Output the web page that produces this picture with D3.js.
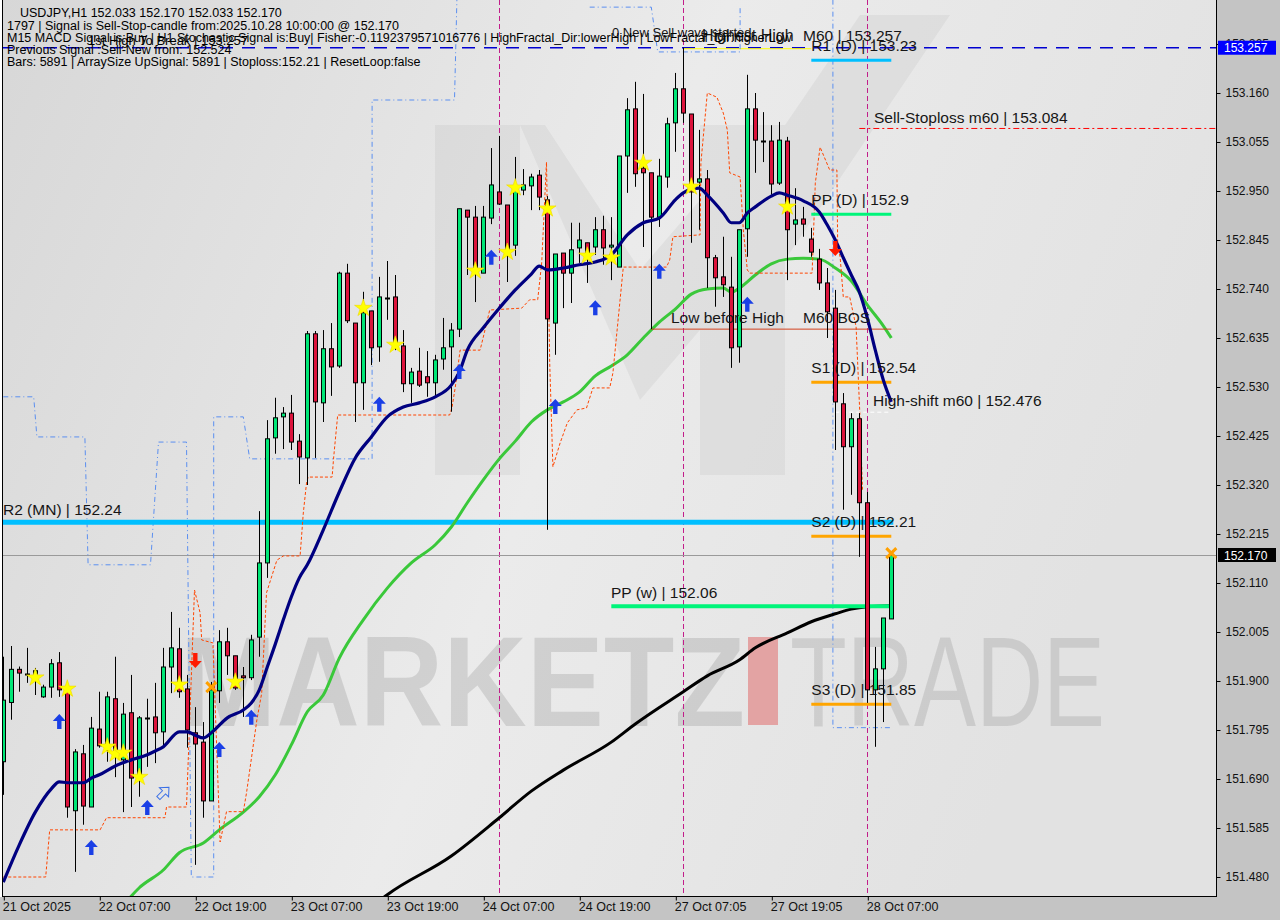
<!DOCTYPE html>
<html><head><meta charset="utf-8">
<script src="https://cdnjs.cloudflare.com/ajax/libs/d3/7.8.5/d3.min.js"></script>
<style>html,body{margin:0;padding:0;background:#c4c4c4;} svg{display:block;font-family:"Liberation Sans",Arial,sans-serif;}</style>
</head><body>
<svg id="chart" width="1280" height="920"></svg>
<script>
// ---------------- DATA ----------------
const opens  = [151.727,151.854,151.925,151.917,151.915,151.866,151.887,151.939,151.881,151.622,151.744,151.630,151.797,151.752,151.862,151.731,151.832,151.694,151.821,151.823,151.791,151.930,151.969,151.883,151.789,151.769,151.643,151.879,151.984,151.954,151.911,151.907,151.994,152.153,152.421,152.466,152.474,152.414,152.378,152.644,152.496,152.612,152.575,152.774,152.667,152.539,152.693,152.616,152.723,152.723,152.618,152.537,152.564,152.552,152.539,152.590,152.616,152.654,152.909,152.894,152.774,152.892,152.948,152.920,152.834,152.952,152.961,152.984,152.931,152.667,152.817,152.774,152.828,152.839,152.830,152.867,152.830,152.787,153.025,153.126,152.999,152.989,152.894,152.980,153.096,153.169,153.115,152.969,152.976,152.807,152.766,152.744,152.616,152.869,153.126,153.059,153.057,152.967,153.057,152.879,152.890,152.847,152.804,152.753,152.699,152.494,152.402,152.462,152.282,151.881,151.926,152.033];
const highs  = [151.952,151.975,151.931,151.971,151.928,151.892,151.947,151.962,151.898,151.754,151.763,151.823,151.877,151.877,151.952,151.853,151.913,151.825,151.862,151.896,151.971,152.048,152.014,151.913,151.844,151.812,151.898,152.009,152.014,151.954,151.930,151.999,152.264,152.459,152.507,152.487,152.513,152.429,152.650,152.650,152.652,152.667,152.777,152.794,152.667,152.734,152.693,152.766,152.800,152.770,152.652,152.571,152.614,152.607,152.599,152.678,152.667,152.912,152.909,152.918,152.918,153.042,153.068,152.920,153.023,152.997,152.987,152.995,152.939,152.815,152.817,152.882,152.882,152.839,152.894,152.897,152.894,153.025,153.149,153.184,153.158,152.989,153.019,153.107,153.203,153.257,153.115,153.081,152.995,152.813,152.852,152.809,152.867,153.199,153.160,153.119,153.091,153.098,153.066,152.956,152.916,152.871,152.826,152.785,152.738,152.517,152.474,152.474,152.305,151.973,152.035,152.170];
const lows   = [151.656,151.817,151.877,151.896,151.870,151.864,151.864,151.866,151.607,151.491,151.592,151.630,151.757,151.727,151.694,151.619,151.630,151.652,151.716,151.724,151.757,151.874,151.864,151.757,151.506,151.607,151.643,151.853,151.913,151.881,151.823,151.902,151.952,152.121,152.387,152.397,152.395,152.322,152.320,152.378,152.455,152.511,152.571,152.667,152.455,152.481,152.577,152.584,152.674,152.609,152.519,152.496,152.530,152.509,152.509,152.567,152.477,152.637,152.770,152.712,152.774,152.879,152.920,152.755,152.811,152.941,152.909,152.909,152.224,152.599,152.699,152.710,152.796,152.753,152.813,152.792,152.759,152.787,152.946,152.959,152.830,152.654,152.873,152.957,153.034,153.096,152.839,152.867,152.742,152.702,152.723,152.571,152.582,152.809,152.989,153.012,152.942,152.963,152.759,152.834,152.852,152.809,152.738,152.635,152.395,152.267,152.299,152.166,151.853,151.759,151.812,152.033];
const closes = [151.859,151.925,151.917,151.915,151.922,151.887,151.937,151.881,151.630,151.748,151.632,151.799,151.761,151.866,151.746,151.829,151.692,151.821,151.821,151.789,151.930,151.971,151.877,151.795,151.765,151.643,151.881,151.984,151.954,151.885,151.907,151.988,152.153,152.419,152.464,152.474,152.412,152.380,152.644,152.498,152.612,152.573,152.774,152.672,152.539,152.689,152.614,152.723,152.721,152.616,152.537,152.562,152.534,152.539,152.588,152.614,152.652,152.912,152.894,152.774,152.894,152.963,152.922,152.819,152.957,152.963,152.980,152.937,152.676,152.815,152.774,152.824,152.845,152.813,152.867,152.828,152.834,153.025,153.124,152.987,152.989,152.894,152.982,153.094,153.169,153.117,152.948,152.976,152.807,152.764,152.749,152.614,152.867,153.126,153.059,153.057,152.965,153.059,152.867,152.888,152.879,152.819,152.753,152.691,152.498,152.402,152.462,152.282,151.881,151.926,152.035,152.170];

const priceTicks = [151.480,151.585,151.690,151.795,151.900,152.005,152.110,152.215,152.320,152.425,152.530,152.635,152.740,152.845,152.950,153.055,153.160,153.265];
const timeIdx    = [0,12,24,36,48,60,72,84,96,108];
const timeLabels = ["21 Oct 2025","22 Oct 07:00","22 Oct 19:00","23 Oct 07:00","23 Oct 19:00","24 Oct 07:00","24 Oct 19:00","27 Oct 07:05","27 Oct 19:05","28 Oct 07:00"];

// moving averages (candle index, price)
const maFastIdx = [0,2,4,6,7,8,10,11,12,14,16,18,19,20,22,23,24,25,26,28,30,31,32,33,34,35,36,37,38,40,42,44,46,48,50,52,54,56,57,58,60,62,64,66,67,68,70,72,74,76,78,80,82,84,85,86,87,88,90,91,92,93,94,96,97,98,100,102,103,104,105,106,107,108,109,110,111];
const maFast    = [151.469,151.549,151.619,151.669,151.684,151.682,151.682,151.692,151.699,151.718,151.731,151.742,151.750,151.759,151.791,151.791,151.784,151.778,151.789,151.821,151.838,151.853,151.881,151.930,151.979,152.031,152.080,152.121,152.149,152.224,152.305,152.378,152.423,152.466,152.487,152.496,152.509,152.534,152.562,152.609,152.657,152.699,152.738,152.772,152.789,152.781,152.785,152.792,152.798,152.813,152.856,152.882,152.892,152.931,152.946,152.954,152.956,152.941,152.903,152.882,152.882,152.903,152.916,152.939,152.946,152.941,152.929,152.905,152.877,152.845,152.807,152.770,152.734,152.678,152.609,152.545,152.498];
const maMidIdx  = [15,17,20,22,25,27,30,32,34,36,38,40,42,45,48,51,54,56,58,60,62,64,66,68,70,72,74,76,78,80,82,84,86,88,90,91,92,94,96,98,100,102,104,106,108,110,111];
const maMid     = [151.420,151.457,151.495,151.532,151.553,151.581,151.619,151.652,151.699,151.763,151.834,151.870,151.949,152.031,152.099,152.153,152.192,152.230,152.282,152.331,152.376,152.414,152.455,152.481,152.498,152.519,152.554,152.575,152.599,152.635,152.669,152.697,152.729,152.740,152.742,152.733,152.742,152.770,152.794,152.804,152.806,152.804,152.785,152.757,152.706,152.661,152.635];
const maSlowIdx = [46,48,56,62,66,70,76,79,85,88,92,94,98,101,104,106,108,111];
const maSlow    = [151.415,151.442,151.525,151.607,151.664,151.709,151.769,151.808,151.877,151.911,151.945,151.971,152.003,152.027,152.044,152.054,152.059,152.061];

// trailing (orange dashed) line
const trailIdx = [0,5.3,5.8,12.1,12.9,20.2,20.4,22.9,23.9,24.6,24.8,26.1,26.2,27.1,27.9,30,30.4,31.7,32.3,32.9,34.2,35,37.1,37.5,37.9,38.1,41.1,41.3,41.8,55.8,56.1,56.5,57.1,59.6,60,60.8,64.8,65.8,66.8,67.3,67.9,68.3,68.7,69.6,70.5,71.7,72.9,73.7,75.8,76.2,77.5,82.9,83.3,83.7,87.1,87.2,88,89.2,90,90.5,90.8,92.1,92.5,93,93.3,101.1,101.5,102.1,103.3,104.2,104.3,104.6,105,105.8,106.6,107.1,107.4];
const trailVal = [151.480,151.480,151.581,151.581,151.607,151.607,151.630,151.630,152.095,152.046,151.988,151.982,151.982,151.555,151.620,151.620,151.660,151.817,151.874,152.089,152.159,152.168,152.168,152.260,152.324,152.337,152.337,152.380,152.470,152.470,152.487,152.530,152.609,152.609,152.637,152.695,152.699,152.717,152.717,152.796,153.012,152.582,152.359,152.410,152.453,152.481,152.485,152.528,152.528,152.560,152.787,152.787,152.802,152.852,152.856,153.010,153.160,153.151,153.117,153.081,152.989,152.980,152.867,152.781,152.774,152.774,152.967,153.044,152.995,152.995,152.830,152.809,152.723,152.723,152.659,152.460,152.310];

// step channel (light blue dashed), NaN = break
const chanIdx = [0,3.8,4.2,10.2,10.6,18.4,19.4,22.9,23.5,26.3,26.3,30,30.8,46.1,46.1,56.4,56.7, NaN, 73.3,81,81.8,92.1,92.1, NaN, 103.7,103.7,111];
const chanVal = [152.509,152.509,152.423,152.423,152.149,152.149,152.412,152.412,151.480,151.480,152.466,152.466,152.376,152.376,153.145,153.145,153.36, NaN, 153.344,153.344,153.248,153.248,153.344, NaN, 153.36,151.800,151.800];

// signals
const starIdx = [4,8,13,14,15,17,22,29,45,49,59,63,64,68,73,76,80,86,98];
const starVal = [151.907,151.883,151.759,151.744,151.746,151.694,151.892,151.898,152.699,152.620,152.779,152.819,152.957,152.912,152.811,152.807,153.010,152.959,152.916];
const upIdx = [7,11,18,27,31,47,57,61,69,74,82,93];
const upVal = [151.812,151.542,151.628,151.752,151.821,152.492,152.562,152.807,152.487,152.699,152.777,152.706];
const downIdx = [24,104];
const downVal = [151.945,152.828];
const crossIdx = [26,111];
const crossVal = [151.887,152.174];
const hollowIdx = [20];
const hollowVal = [151.660];
const sepIdx = [62,85,108];

// levels
const levelNames = ["R1 (D) | 153.23","PP (D) | 152.9","S1 (D) | 152.54","S2 (D) | 152.21","S3 (D) | 151.85"];
const levelVals  = [153.23,152.9,152.54,152.21,151.85];
const levelColors= ["#00bfff","#00f57a","#ffa500","#ffa500","#ffa500"];

// ---------------- DRAW ----------------
const svg = d3.select("#chart");
const PR = 1216, PB = 897;
const x = d3.scaleLinear().domain([0,151]).range([3.3, 3.3 + 8*151]);
const y = d3.scaleLinear().domain([151.480,153.160]).range([877,93]);

const defs = svg.append("defs");
const g1 = defs.append("linearGradient").attr("id","bg").attr("x1","0").attr("y1","0").attr("x2","1").attr("y2","0.3");
g1.append("stop").attr("offset","0").attr("stop-color","#d7d7d7");
g1.append("stop").attr("offset","0.55").attr("stop-color","#ebebeb");
g1.append("stop").attr("offset","1").attr("stop-color","#e2e2e2");
defs.append("clipPath").attr("id","clip").append("rect").attr("x",3).attr("y",0).attr("width",PR-3).attr("height",PB);

svg.append("rect").attr("width",1280).attr("height",920).attr("fill","#c4c4c4");
svg.append("rect").attr("x",0).attr("y",0).attr("width",PR).attr("height",PB).attr("fill","url(#bg)");
svg.append("rect").attr("x",0).attr("y",0).attr("width",2).attr("height",PB).attr("fill","#ffffff");

const plot = svg.append("g").attr("clip-path","url(#clip)");

// watermark M logo
const wm = plot.append("g").attr("fill","#000").attr("fill-opacity",0.045);
wm.append("path").attr("d","M435,125 L520,125 L520,475 L435,475 Z");
wm.append("path").attr("d","M520,125 L545,125 L640,270 L700,200 L700,125 L785,125 L785,475 L700,475 L700,330 L640,400 Z");
wm.append("path").attr("d","M785,125 L860,15 L950,15 L785,260 Z");
// watermark text
plot.append("text").attr("x",180).attr("y",726).attr("font-size",128).attr("font-weight","bold")
  .attr("fill","#000").attr("fill-opacity",0.11).attr("textLength",565).attr("lengthAdjust","spacingAndGlyphs").text("MARKETZ");
plot.append("rect").attr("x",748).attr("y",637).attr("width",30).attr("height",88).attr("fill","#e3a3a3");
plot.append("text").attr("x",790).attr("y",726).attr("font-size",128)
  .attr("fill","#000").attr("fill-opacity",0.10).attr("textLength",315).attr("lengthAdjust","spacingAndGlyphs").text("TRADE");

// separators
plot.selectAll("line.sep").data(sepIdx).enter().append("line")
  .attr("x1",d=>Math.round(x(d))+0.5).attr("x2",d=>Math.round(x(d))+0.5).attr("y1",0).attr("y2",PB)
  .attr("stroke","#c21d8a").attr("stroke-width",1).attr("stroke-dasharray","5,3");

// current price line
plot.append("line").attr("x1",0).attr("x2",PR).attr("y1",Math.round(y(closes[closes.length-1]))+0.5).attr("y2",Math.round(y(closes[closes.length-1]))+0.5)
  .attr("stroke","#9a9a9a").attr("stroke-width",1);

// M60 dashed line
plot.append("line").attr("x1",0).attr("x2",PR).attr("y1",y(153.257)).attr("y2",y(153.257))
  .attr("stroke","#0000d0").attr("stroke-width",1.4).attr("stroke-dasharray","13,9");
plot.append("line").attr("x1",x(85)).attr("x2",x(101)).attr("y1",y(153.257)+1).attr("y2",y(153.257)+1)
  .attr("stroke","#ffff00").attr("stroke-width",1);

// channel
const lineDef = d3.line().defined(d=>!isNaN(d[0])).x(d=>x(d[0])).y(d=>y(d[1]));
plot.append("path").datum(chanIdx.map((d,i)=>[d,chanVal[i]])).attr("d",lineDef)
  .attr("fill","none").attr("stroke","#5b8ff0").attr("stroke-width",1).attr("stroke-dasharray","5,3,1,3");

// R2 line
plot.append("line").attr("x1",0).attr("x2",x(111)+2).attr("y1",y(152.24)).attr("y2",y(152.24))
  .attr("stroke","#00bfff").attr("stroke-width",5);

// slow MA
const curve = d3.line().x(d=>x(d[0])).y(d=>y(d[1])).curve(d3.curveMonotoneX);
plot.append("path").datum(maSlowIdx.map((d,i)=>[d,maSlow[i]])).attr("d",curve)
  .attr("fill","none").attr("stroke","#000").attr("stroke-width",3);
// mid MA
plot.append("path").datum(maMidIdx.map((d,i)=>[d,maMid[i]])).attr("d",curve)
  .attr("fill","none").attr("stroke","#3ac83a").attr("stroke-width",3);

// trailing line
plot.append("path").datum(trailIdx.map((d,i)=>[d,trailVal[i]])).attr("d",lineDef)
  .attr("fill","none").attr("stroke","#ff4500").attr("stroke-width",1).attr("stroke-dasharray","3,2");

// Low before High line
plot.append("line").attr("x1",x(81)).attr("x2",x(111)).attr("y1",y(152.654)).attr("y2",y(152.654))
  .attr("stroke","#d2401e").attr("stroke-width",1);
// Sell stoploss
plot.append("line").attr("x1",x(107)).attr("x2",PR).attr("y1",y(153.084)).attr("y2",y(153.084))
  .attr("stroke","#ff0000").attr("stroke-width",1).attr("stroke-dasharray","6,3,2,3");
// High shift
plot.append("line").attr("x1",x(104)).attr("x2",x(111)).attr("y1",y(152.476)).attr("y2",y(152.476))
  .attr("stroke","#ffffff").attr("stroke-width",1).attr("stroke-dasharray","4,3");

// PP weekly
plot.append("line").attr("x1",x(76)).attr("x2",x(111)).attr("y1",y(152.06)).attr("y2",y(152.06))
  .attr("stroke","#00f57a").attr("stroke-width",4);

// daily levels
plot.selectAll("line.lvl").data(levelVals).enter().append("line")
  .attr("x1",x(101)).attr("x2",x(111)).attr("y1",d=>y(d)).attr("y2",d=>y(d))
  .attr("stroke",(d,i)=>levelColors[i]).attr("stroke-width",3);

// candles
const cg = plot.append("g");
const idx = d3.range(opens.length);
cg.selectAll("line.w").data(idx).enter().append("line")
  .attr("x1",i=>Math.round(x(i))+0.5).attr("x2",i=>Math.round(x(i))+0.5)
  .attr("y1",i=>y(highs[i])).attr("y2",i=>y(lows[i]))
  .attr("stroke","#000").attr("stroke-width",1);
cg.selectAll("rect.b").data(idx.filter(i=>Math.abs(opens[i]-closes[i])>0.0025)).enter().append("rect")
  .attr("x",i=>Math.round(x(i))-1.5).attr("width",4)
  .attr("y",i=>y(Math.max(opens[i],closes[i]))).attr("height",i=>Math.abs(y(opens[i])-y(closes[i])))
  .attr("fill",i=>closes[i]>=opens[i]?"#00e676":"#dc143c").attr("stroke","#000").attr("stroke-width",1);
cg.selectAll("line.d").data(idx.filter(i=>Math.abs(opens[i]-closes[i])<=0.0025)).enter().append("line")
  .attr("x1",i=>Math.round(x(i))-2).attr("x2",i=>Math.round(x(i))+3)
  .attr("y1",i=>Math.round(y(closes[i]))+0.5).attr("y2",i=>Math.round(y(closes[i]))+0.5)
  .attr("stroke","#000").attr("stroke-width",2);

// fast MA on top
plot.append("path").datum(maFastIdx.map((d,i)=>[d,maFast[i]])).attr("d",curve)
  .attr("fill","none").attr("stroke","#000080").attr("stroke-width",3.2);

// stars
plot.selectAll("path.star").data(starIdx).enter().append("path")
  .attr("d",d3.symbol().type(d3.symbolStar).size(95))
  .attr("transform",(d,i)=>`translate(${x(d)},${y(starVal[i])})`)
  .attr("fill","#ffff00").attr("stroke","#f0d800").attr("stroke-width",0.6);

// arrows
const upPath = "M0,-8 L6.5,-1 L2.2,-1 L2.2,7 L-2.2,7 L-2.2,-1 L-6.5,-1 Z";
plot.selectAll("path.up").data(upIdx).enter().append("path").attr("d",upPath)
  .attr("transform",(d,i)=>`translate(${x(d)},${y(upVal[i])})`).attr("fill","#1a3fe6");
plot.selectAll("path.dn").data(downIdx).enter().append("path").attr("d",upPath)
  .attr("transform",(d,i)=>`translate(${x(d)},${y(downVal[i])}) rotate(180)`).attr("fill","#ff1a00");
plot.selectAll("path.hol").data(hollowIdx).enter().append("path").attr("d",upPath)
  .attr("transform",(d,i)=>`translate(${x(d)},${y(hollowVal[i])}) rotate(45)`).attr("fill","none").attr("stroke","#3a6fe6").attr("stroke-width",1);
plot.selectAll("path.cx").data(crossIdx).enter().append("path").attr("d","M-5,-5 L5,5 M-5,5 L5,-5")
  .attr("transform",(d,i)=>`translate(${x(d)},${y(crossVal[i])})`).attr("stroke","#ffa000").attr("stroke-width",3);

// labels in plot
const T = (tx,ty,s,size,col) => svg.append("text").attr("x",tx).attr("y",ty).attr("font-size",size||15.5).attr("fill",col||"#161616").text(s);
T(3,515,"R2 (MN) | 152.24");
T(611,598,"PP (w) | 152.06");
levelNames.forEach((n,i)=>T(x(101),y(levelVals[i])-9,n));
T(803,41,"M60 | 153.257");
T(702,41,"Highest High",16);
T(612,37,"0 New Sell wave started",13);
T(874,123,"Sell-Stoploss m60 | 153.084");
T(873,406,"High-shift m60 | 152.476");
T(671,323,"Low before High");
T(803,323,"M60 BOS");
// header
T(20,17,"USDJPY,H1  152.033 152.170 152.033 152.170",12.5,"#000");
T(7,30,"1797 | Signal is Sell-Stop-candle from:2025.10.28 10:00:00 @ 152.170",12.5,"#000");
T(7,42,"M15 MACD Signal is:Buy | H1 Stochastic Signal is:Buy| Fisher:-0.1192379571016776 | HighFractal_Dir:lowerHigh | LowFractal_Dir:higherLow",12.5,"#000");
T(88,45,"1st High To Break | 153.257",13,"#000");
T(7,54,"Previous Signal :Sell-New from: 152.524",12.5,"#000");
T(7,66,"Bars: 5891 | ArraySize UpSignal: 5891 | Stoploss:152.21 | ResetLoop:false",12.5,"#000");

// borders
svg.append("line").attr("x1",2.5).attr("x2",2.5).attr("y1",0).attr("y2",PB).attr("stroke","#000");
svg.append("line").attr("x1",PR+0.5).attr("x2",PR+0.5).attr("y1",0).attr("y2",PB).attr("stroke","#000");
svg.append("line").attr("x1",2).attr("x2",PR+1).attr("y1",PB-0.5).attr("y2",PB-0.5).attr("stroke","#000");

// right axis
const ay = svg.append("g").attr("transform",`translate(${PR+0.5},0)`)
  .call(d3.axisRight(y).tickValues(priceTicks).tickSize(4).tickPadding(5).tickFormat(d3.format(".3f")));
ay.select(".domain").remove();
ay.selectAll("text").attr("font-size",12).attr("font-family","Liberation Sans, Arial, sans-serif").attr("fill","#111");
ay.selectAll("line").attr("stroke","#000");

// bottom axis
const ax = svg.append("g").attr("transform",`translate(0,${PB-0.5})`)
  .call(d3.axisBottom(x).tickValues(timeIdx).tickSize(4).tickFormat((d,i)=>timeLabels[i]));
ax.select(".domain").remove();
ax.selectAll("line").attr("stroke","#000").attr("transform","translate(0.5,0)");
ax.selectAll("text").attr("text-anchor","start").attr("dx",-1).attr("y",6).attr("font-size",12.5)
  .attr("font-family","Liberation Sans, Arial, sans-serif").attr("fill","#111");

// price tags
function tag(v,bg){
  const g = svg.append("g").attr("transform",`translate(${PR+2},${y(v)})`);
  g.append("rect").attr("x",0).attr("y",-7).attr("width",58).attr("height",14).attr("fill",bg);
  g.append("text").attr("x",6).attr("y",4.5).attr("font-size",12).attr("fill","#fff").text(d3.format(".3f")(v));
}
tag(153.257,"#0000ff");
tag(closes[closes.length-1],"#000000");
</script>
</body></html>
